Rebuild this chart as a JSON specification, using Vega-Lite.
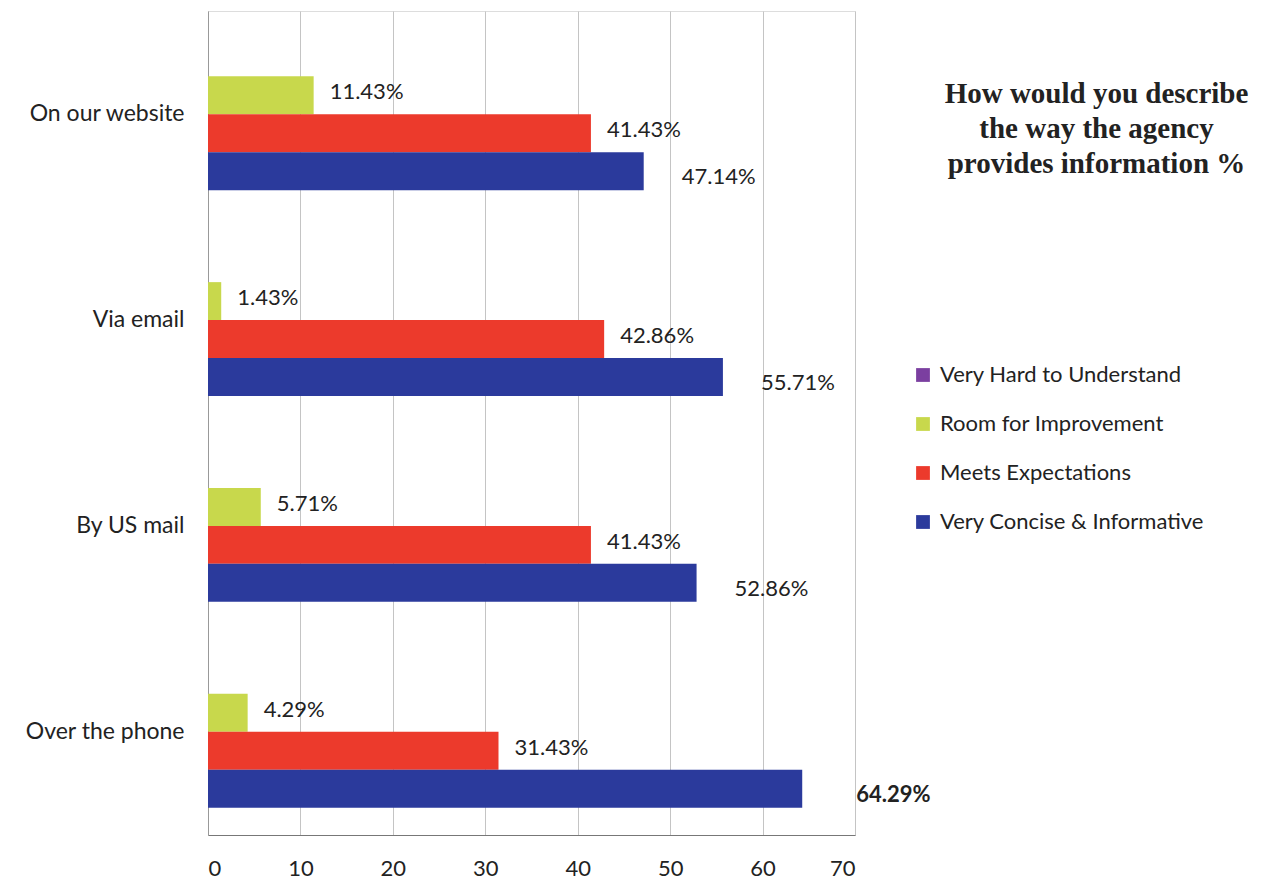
{
  "$schema": "https://vega.github.io/schema/vega-lite/v6.json",
  "autosize": {"type": "none"},
  "width": 647,
  "height": 824,
  "padding": {"left": 208, "top": 11, "right": 412, "bottom": 52},
  "background": "white",
  "title": {
    "text": ["How would you describe", "the way the agency", "provides information %"],
    "font": "Liberation Serif",
    "fontSize": 29,
    "fontWeight": "bold",
    "color": "#222",
    "anchor": "middle",
    "frame": "group",
    "baseline": "top",
    "lineHeight": 35,
    "dx": 565,
    "dy": 168,
    "offset": 0
  },
  "data": {
    "values": [
      {"channel": "On our website", "rating": "Very Hard to Understand", "value": 0},
      {"channel": "On our website", "rating": "Room for Improvement", "value": 11.43},
      {"channel": "On our website", "rating": "Meets Expectations", "value": 41.43},
      {"channel": "On our website", "rating": "Very Concise & Informative", "value": 47.14},
      {"channel": "Via email", "rating": "Very Hard to Understand", "value": 0},
      {"channel": "Via email", "rating": "Room for Improvement", "value": 1.43},
      {"channel": "Via email", "rating": "Meets Expectations", "value": 42.86},
      {"channel": "Via email", "rating": "Very Concise & Informative", "value": 55.71},
      {"channel": "By US mail", "rating": "Very Hard to Understand", "value": 0},
      {"channel": "By US mail", "rating": "Room for Improvement", "value": 5.71},
      {"channel": "By US mail", "rating": "Meets Expectations", "value": 41.43},
      {"channel": "By US mail", "rating": "Very Concise & Informative", "value": 52.86},
      {"channel": "Over the phone", "rating": "Very Hard to Understand", "value": 0},
      {"channel": "Over the phone", "rating": "Room for Improvement", "value": 4.29},
      {"channel": "Over the phone", "rating": "Meets Expectations", "value": 31.43},
      {"channel": "Over the phone", "rating": "Very Concise & Informative", "value": 64.29}
    ]
  },
  "transform": [{"calculate": "format(datum.value, '.2f') + '%'", "as": "label"}],
  "encoding": {
    "y": {
      "field": "channel",
      "type": "nominal",
      "sort": ["On our website", "Via email", "By US mail", "Over the phone"],
      "scale": {"paddingInner": 0.262, "paddingOuter": 0.133},
      "axis": {
        "title": null,
        "labelFont": "Lato",
        "labelFontSize": 23,
        "labelColor": "#222",
        "labelPadding": 24,
        "labelLimit": 300,
        "ticks": false,
        "domainColor": "#999",
        "grid": false
      }
    },
    "yOffset": {
      "field": "rating",
      "type": "nominal",
      "sort": ["Very Hard to Understand", "Room for Improvement", "Meets Expectations", "Very Concise & Informative"],
      "scale": {"paddingInner": 0, "paddingOuter": 0}
    },
    "x": {
      "field": "value",
      "type": "quantitative",
      "scale": {"domain": [0, 70], "nice": false},
      "axis": {
        "title": null,
        "values": [0, 10, 20, 30, 40, 50, 60, 70],
        "labelFont": "Lato",
        "labelFontSize": 22,
        "labelColor": "#222",
        "labelPadding": 23,
        "ticks": false,
        "grid": true,
        "gridColor": "#c4c4c4",
        "domainColor": "#777"
      }
    }
  },
  "layer": [
    {
      "mark": {"type": "bar"},
      "encoding": {
        "color": {
          "field": "rating",
          "type": "nominal",
          "sort": ["Very Hard to Understand", "Room for Improvement", "Meets Expectations", "Very Concise & Informative"],
          "scale": {
            "domain": ["Very Hard to Understand", "Room for Improvement", "Meets Expectations", "Very Concise & Informative"],
            "range": ["#7B3FA0", "#C8D84C", "#EC3A2C", "#2B3A9C"]
          },
          "legend": {
            "title": null,
            "orient": "none",
            "legendX": 704,
            "legendY": 353,
            "symbolType": "square",
            "symbolSize": 190,
            "symbolStrokeWidth": 0,
            "labelFont": "Lato",
            "labelFontSize": 22,
            "labelColor": "#222",
            "labelOffset": 6,
            "labelLimit": 400,
            "rowPadding": 27
          }
        }
      }
    },
    {
      "transform": [{"filter": "datum.rating == 'Room for Improvement' || datum.rating == 'Meets Expectations'"}],
      "mark": {"type": "text", "align": "left", "baseline": "middle", "dx": 16, "dy": -3, "font": "Lato", "fontSize": 22, "color": "#222"},
      "encoding": {"text": {"field": "label", "type": "nominal"}}
    },
    {
      "transform": [{"filter": "datum.rating == 'Very Concise & Informative' && datum.value <= 60"}],
      "mark": {"type": "text", "align": "left", "baseline": "middle", "dx": 38, "dy": 6, "font": "Lato", "fontSize": 22, "color": "#222"},
      "encoding": {"text": {"field": "label", "type": "nominal"}}
    },
    {
      "transform": [{"filter": "datum.rating == 'Very Concise & Informative' && datum.value > 60"}],
      "mark": {"type": "text", "align": "left", "baseline": "middle", "dx": 54, "dy": 6, "font": "Lato", "fontSize": 22, "fontWeight": "bold", "color": "#222"},
      "encoding": {"text": {"field": "label", "type": "nominal"}}
    }
  ]
}
